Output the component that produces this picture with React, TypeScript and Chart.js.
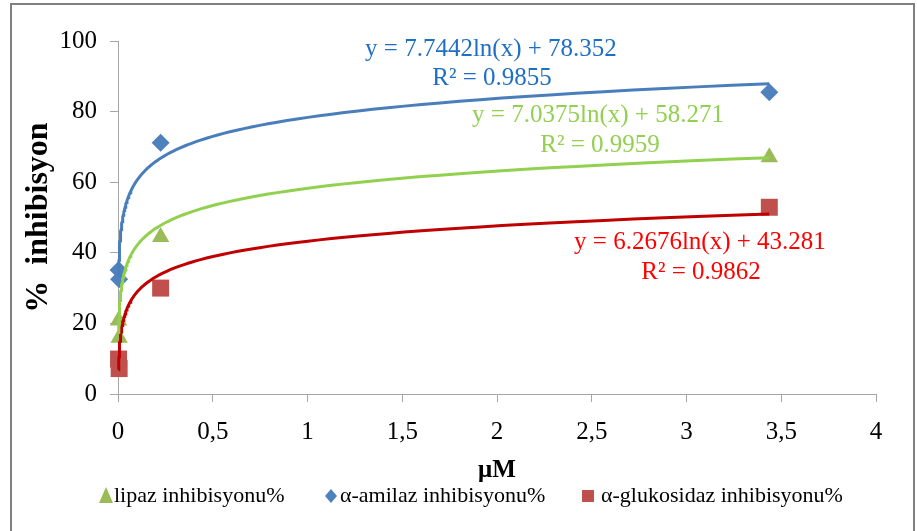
import React, { useEffect, useRef } from 'react';
import { Chart, registerables } from 'chart.js';

Chart.register(...registerables);

// ---- data ----
const xValues = [0.003, 0.006, 0.225, 3.437];
const lipazValues = [20.8, 15.9, 44.5, 67.1];
const amilazValues = [35.1, 32.5, 71.2, 85.5];
const glukosidazValues = [9.9, 7.2, 30.0, 52.9];
const seriesNames = ['lipaz inhibisyonu%', 'α-amilaz inhibisyonu%', 'α-glukosidaz inhibisyonu%'];
// logarithmic trendlines shown on the chart: y = a ln(x) + b
const trendSlopes = [7.0375, 7.7442, 6.2676];
const trendIntercepts = [58.271, 78.352, 43.281];
const trendR2 = ['0.9959', '0.9855', '0.9862'];
const xTickLabels = ['0', '0,5', '1', '1,5', '2', '2,5', '3', '3,5', '4'];
const yTickLabels = ['0', '20', '40', '60', '80', '100'];

// ---- styling ----
const markerColors = ['#9BBB59', '#4F81BD', '#C0504D'];
const markerStyles = ['triangle', 'rectRot', 'rect'];
const markerRadii = [10, 9, 12];
const trendColors = ['#92D050', '#4A7EBB', '#C00000'];
const labelColors = ['#92D050', '#1F6FC5', '#FF0000'];
// label anchor positions (data coordinates) for equation / R² text
const eqAnchors = [
  { eq: [2.533, 79.0], r2: [2.544, 70.5] },
  { eq: [1.968, 97.5], r2: [1.974, 89.5] },
  { eq: [3.071, 42.8], r2: [3.077, 34.3] },
];
const legendItems = [
  { mx: 106, tx: 114 },
  { mx: 331, tx: 340 },
  { mx: 588, tx: 601 },
];

const SERIF = "'Liberation Serif', 'Times New Roman', serif";

function trendPoints(i: number) {
  const xmin = Math.min(...xValues);
  const xmax = Math.max(...xValues);
  const pts: { x: number; y: number }[] = [];
  const n = 120;
  const l0 = Math.log(xmin);
  const l1 = Math.log(xmax);
  for (let k = 0; k <= n; k++) {
    const x = Math.exp(l0 + ((l1 - l0) * k) / n);
    pts.push({ x, y: trendSlopes[i] * Math.log(x) + trendIntercepts[i] });
  }
  return pts;
}

const framePlugin = {
  id: 'frame',
  beforeDraw(chart: any) {
    const { ctx, width, height } = chart;
    ctx.save();
    ctx.fillStyle = '#ffffff';
    ctx.fillRect(0, 0, width, height);
    ctx.strokeStyle = '#808080';
    ctx.lineWidth = 2;
    ctx.strokeRect(11, 4, 903, 532);
    ctx.restore();
  },
};

const labelsPlugin = {
  id: 'eqLabels',
  afterDatasetsDraw(chart: any) {
    const { ctx } = chart;
    const xs = chart.scales.x;
    const ys = chart.scales.y;
    ctx.save();
    ctx.font = `25px ${SERIF}`;
    ctx.textAlign = 'center';
    ctx.textBaseline = 'middle';
    for (let i = 0; i < 3; i++) {
      ctx.fillStyle = labelColors[i];
      const a = eqAnchors[i];
      const eq = `y = ${trendSlopes[i]}ln(x) + ${trendIntercepts[i]}`;
      ctx.fillText(eq, xs.getPixelForValue(a.eq[0]), ys.getPixelForValue(a.eq[1]));
      ctx.fillText(`R² = ${trendR2[i]}`, xs.getPixelForValue(a.r2[0]), ys.getPixelForValue(a.r2[1]));
    }
    ctx.restore();
  },
};

const legendPlugin = {
  id: 'customLegend',
  afterDraw(chart: any) {
    const { ctx } = chart;
    const y = 496;
    ctx.save();
    ctx.font = `22px ${SERIF}`;
    ctx.textAlign = 'left';
    ctx.textBaseline = 'middle';
    for (let i = 0; i < 3; i++) {
      const it = legendItems[i];
      ctx.fillStyle = markerColors[i];
      ctx.beginPath();
      if (i === 0) {
        ctx.moveTo(it.mx, y - 9);
        ctx.lineTo(it.mx + 7, y + 7);
        ctx.lineTo(it.mx - 7, y + 7);
      } else if (i === 1) {
        ctx.moveTo(it.mx, y - 7);
        ctx.lineTo(it.mx + 6, y);
        ctx.lineTo(it.mx, y + 7);
        ctx.lineTo(it.mx - 6, y);
      } else {
        ctx.rect(it.mx - 6, y - 6, 12, 12);
      }
      ctx.closePath();
      ctx.fill();
      ctx.fillStyle = '#000';
      ctx.fillText(seriesNames[i], it.tx, y);
    }
    ctx.restore();
  },
};

export default function App() {
  const ref = useRef<HTMLCanvasElement | null>(null);

  useEffect(() => {
    if (!ref.current) return;
    const seriesValues = [lipazValues, amilazValues, glukosidazValues];
    const scatterSets = seriesValues.map((vals, i) => ({
      type: 'scatter' as const,
      label: seriesNames[i],
      data: xValues.map((x, k) => ({ x, y: vals[k] })),
      pointStyle: markerStyles[i],
      pointRadius: markerRadii[i],
      pointBackgroundColor: markerColors[i],
      pointBorderColor: markerColors[i],
      pointBorderWidth: 0,
      showLine: false,
      clip: false,
      order: 1,
    }));
    const trendSets = [0, 1, 2].map((i) => ({
      type: 'scatter' as const,
      label: 'trend ' + seriesNames[i],
      data: trendPoints(i),
      showLine: true,
      pointRadius: 0,
      borderColor: trendColors[i],
      borderWidth: 3,
      tension: 0,
      fill: false,
      clip: false,
      order: 0,
    }));

    const chart = new Chart(ref.current, {
      type: 'scatter',
      data: { datasets: [...scatterSets, ...trendSets] as any },
      options: {
        responsive: false,
        animation: false,
        layout: { padding: { left: 0, right: 41, top: 41, bottom: 47 } },
        plugins: { legend: { display: false }, tooltip: { enabled: false } },
        scales: {
          x: {
            type: 'linear',
            min: 0,
            max: 4,
            ticks: {
              stepSize: 0.5,
              color: '#000',
              font: { family: SERIF, size: 25 },
              padding: 15,
              callback: (v: any) => xTickLabels[Math.round(Number(v) * 2)],
            },
            grid: { display: true, drawOnChartArea: false, drawTicks: true, tickLength: 8, color: '#A6A6A6' },
            border: { display: true, color: '#A6A6A6', width: 1 },
            title: {
              display: true,
              text: 'μM',
              color: '#000',
              font: { family: SERIF, size: 25, weight: 'bold' },
              padding: { top: 0, bottom: -2 },
            },
            afterFit: (s: any) => {
              s.height = 90;
            },
          },
          y: {
            type: 'linear',
            min: 0,
            max: 100,
            ticks: {
              stepSize: 20,
              color: '#000',
              font: { family: SERIF, size: 25 },
              padding: 13,
              callback: (v: any) => yTickLabels[Math.round(Number(v) / 20)],
            },
            grid: { display: true, drawOnChartArea: false, drawTicks: true, tickLength: 8, color: '#A6A6A6' },
            border: { display: true, color: '#A6A6A6', width: 1 },
            title: {
              display: true,
              text: '%  inhibisyon',
              color: '#000',
              font: { family: SERIF, size: 32, weight: 'bold' },
              padding: { top: 20, bottom: 0 },
            },
            afterFit: (s: any) => {
              s.width = 118;
            },
          },
        },
      },
      plugins: [framePlugin, labelsPlugin, legendPlugin],
    });
    return () => chart.destroy();
  }, []);

  return (
    <div style={{ position: 'absolute', left: 0, top: 0, width: 917, height: 531 }}>
      <canvas ref={ref} width={917} height={531} style={{ display: 'block' }} />
    </div>
  );
}
